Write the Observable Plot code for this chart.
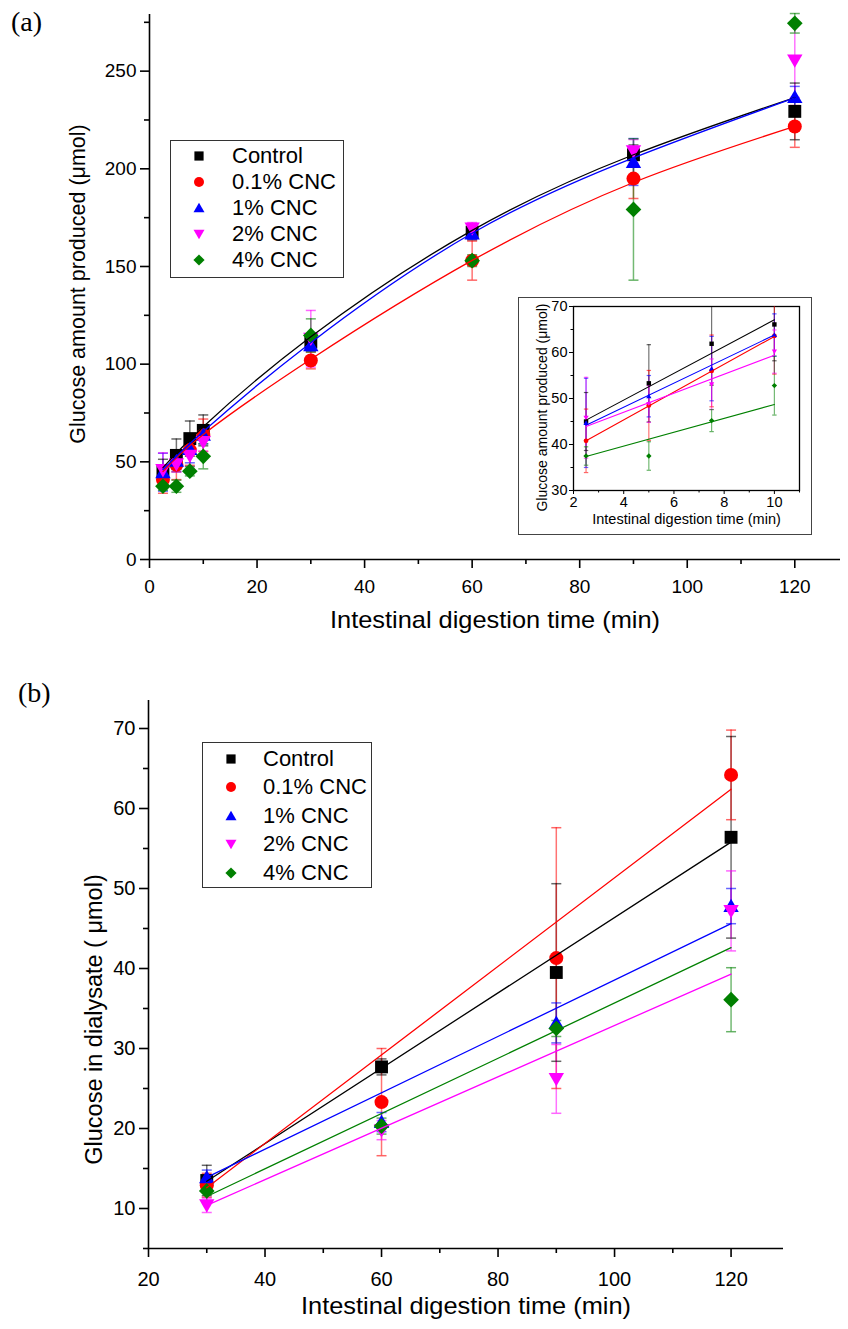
<!DOCTYPE html>
<html>
<head>
<meta charset="utf-8">
<script src="https://cdn.jsdelivr.net/npm/d3@7"></script>
<script src="https://cdn.jsdelivr.net/npm/@observablehq/plot@0.6"></script>
<style>
  body { margin: 0; background: #fff; }
  #root { position: relative; width: 848px; height: 1329px; font-family: "Liberation Sans", Arial, sans-serif; overflow: hidden; }
  .plabel { position: absolute; font-family: "Liberation Serif", "Times New Roman", serif; font-size: 28px; color: #000; line-height: 1; }
  .legend { position: absolute; border: 1.3px solid #333; background: #fff; box-sizing: border-box; }
  .legend .row { position: absolute; left: 0; right: 0; height: 26px; }
  .legend .row svg { position: absolute; top: 0; }
  .legend .row span { position: absolute; font-size: 22px; line-height: 26px; top: 0; color: #000; white-space: nowrap; }
  .inset { position: absolute; border: 1.5px solid #444; background: #fff; box-sizing: border-box; }
</style>
</head>
<body>
<div id="root"></div>
<script>
// ---------------- DATA ----------------
const seriesNames = ["Control", "0.1% CNC", "1% CNC", "2% CNC", "4% CNC"];
const seriesColors = ["#000000", "#ff0000", "#0000ff", "#ff00ff", "#008000"];

// Panel (a): glucose amount produced (µmol) vs intestinal digestion time (min)
const timeA = [2.5, 5, 7.5, 10, 30, 60, 90, 120];
const controlA = [45.0, 53.3, 61.9, 66.1, 111.3, 167.6, 207.2, 229.4];
const cnc01A   = [40.8, 48.5, 56.0, 63.6, 101.9, 153.0, 195.0, 221.7];
const cnc1A    = [44.7, 50.5, 56.5, 63.8, 109.6, 166.9, 203.5, 236.7];
const cnc2A    = [45.8, 48.8, 53.1, 60.2, 113.0, 169.5, 209.0, 255.5];
const cnc4A    = [37.5, 37.5, 45.2, 52.8, 114.7, 153.0, 179.2, 274.5];
const controlErrA = [6.3, 8.4, 9.0, 7.9, 3.0, 4.0, 5.0, 14.5];
const cnc01ErrA   = [6.9, 7.6, 7.8, 8.3, 4.3, 10.0, 10.2, 10.7];
const cnc1ErrA    = [9.7, 4.5, 7.0, 4.6, 3.0, 3.0, 12.0, 5.5];
const cnc2ErrA    = [8.8, 4.0, 5.5, 4.7, 14.5, 3.0, 6.0, 19.0];
const cnc4ErrA    = [2.0, 3.1, 2.4, 6.4, 8.5, 3.0, 36.2, 5.0];

// Panel (a): fitted curves
const fitSeriesA = ["Control", "0.1% CNC", "1% CNC"];
const fitTimeA = [2.5, 10, 30, 60, 90, 120];
const fitControlA = [47.0, 68.0, 114.0, 168.5, 207.2, 236.5];
const fitCnc01A   = [45.0, 64.0, 102.5, 153.1, 193.0, 221.7];
const fitCnc1A    = [46.0, 65.5, 111.0, 167.0, 205.6, 236.3];

// Inset: linear fits over the first 10 min
const insetFitTime = [2.5, 10];
const insetFitControl = [45.3, 67.1];
const insetFitCnc01   = [40.8, 63.5];
const insetFitCnc1    = [44.2, 63.8];
const insetFitCnc2    = [43.9, 59.4];
const insetFitCnc4    = [37.4, 48.7];

// Panel (b): glucose in dialysate (µmol)
const timeB = [30, 60, 90, 120];
const controlB = [13.5, 27.7, 39.5, 56.4];
const cnc01B   = [12.9, 23.3, 41.3, 64.2];
const cnc1B    = [13.9, 20.8, 33.2, 47.8];
const cnc2B    = [10.4, 19.8, 26.2, 47.2];
const cnc4B    = [12.2, 20.3, 32.5, 36.1];
const controlErrB = [1.9, 1.0, 11.1, 12.6];
const cnc01ErrB   = [1.5, 6.7, 16.3, 5.6];
const cnc1ErrB    = [0.9, 1.2, 2.5, 2.2];
const cnc2ErrB    = [0.9, 1.2, 4.3, 5.0];
const cnc4ErrB    = [1.3, 1.0, 1.0, 4.0];

// Panel (b): linear fits
const fitTimeB = [30, 120];
const fitControlB = [13.4, 55.8];
const fitCnc01B   = [12.6, 62.4];
const fitCnc1B    = [13.9, 45.6];
const fitCnc2B    = [10.4, 39.3];
const fitCnc4B    = [11.5, 42.6];

// Tick values
const xMajorA = [0, 20, 40, 60, 80, 100, 120];
const xMinorA = [10, 30, 50, 70, 90, 110];
const yMajorA = [0, 50, 100, 150, 200, 250];
const yMinorA = [25, 75, 125, 175, 225, 275];
const xMajorInset = [2, 4, 6, 8, 10];
const xMinorInset = [3, 5, 7, 9, 11];
const yMajorInset = [30, 40, 50, 60, 70];
const yMinorInset = [35, 45, 55, 65];
const xMajorB = [20, 40, 60, 80, 100, 120];
const xMinorB = [30, 50, 70, 90, 110];
const yMajorB = [10, 20, 30, 40, 50, 60, 70];
const yMinorB = [5, 15, 25, 35, 45, 55, 65];

// ---------------- SYMBOLS ----------------
const SQ = {draw(c, s) { const r = Math.sqrt(s / Math.PI) * 0.92; c.rect(-r, -r, 2 * r, 2 * r); }};
const CI = {draw(c, s) { const r = Math.sqrt(s / Math.PI); c.moveTo(r, 0); c.arc(0, 0, r, 0, 2 * Math.PI); }};
const TU = {draw(c, s) { const r = Math.sqrt(s / Math.PI); c.moveTo(0, -1.05 * r); c.lineTo(1.1 * r, 0.85 * r); c.lineTo(-1.1 * r, 0.85 * r); c.closePath(); }};
const TD = {draw(c, s) { const r = Math.sqrt(s / Math.PI); c.moveTo(0, 1.05 * r); c.lineTo(1.1 * r, -0.85 * r); c.lineTo(-1.1 * r, -0.85 * r); c.closePath(); }};
const DI = {draw(c, s) { const r = Math.sqrt(s / Math.PI) * 1.12; c.moveTo(0, -r); c.lineTo(r, 0); c.lineTo(0, r); c.lineTo(-r, 0); c.closePath(); }};
const CAP = {draw(c, s) { const r = Math.sqrt(s / Math.PI); c.moveTo(-r, 0); c.lineTo(r, 0); }};
const seriesSymbols = [SQ, CI, TU, TD, DI];

// ---------------- TABLES ----------------
const valuesA = [controlA, cnc01A, cnc1A, cnc2A, cnc4A];
const errorsA = [controlErrA, cnc01ErrA, cnc1ErrA, cnc2ErrA, cnc4ErrA];
const valuesB = [controlB, cnc01B, cnc1B, cnc2B, cnc4B];
const errorsB = [controlErrB, cnc01ErrB, cnc1ErrB, cnc2ErrB, cnc4ErrB];
const fitsA = [fitControlA, fitCnc01A, fitCnc1A];
const insetFits = [insetFitControl, insetFitCnc01, insetFitCnc1, insetFitCnc2, insetFitCnc4];
const fitsB = [fitControlB, fitCnc01B, fitCnc1B, fitCnc2B, fitCnc4B];

function rows(times, vals, errs) {
  return seriesNames.flatMap((s, i) => times.map((t, j) => ({series: s, time: t, value: vals[i][j], err: errs[i][j]})));
}
function capRows(rs) {
  return rs.flatMap(d => [{...d, y: d.value - d.err}, {...d, y: d.value + d.err}]);
}
function fitRows(names, times, fits) {
  return names.flatMap((s, i) => times.map((t, j) => ({series: s, time: t, value: fits[i][j]})));
}
const rowsA = rows(timeA, valuesA, errorsA);
const rowsInset = rowsA.filter(d => d.time <= 10);
const rowsB = rows(timeB, valuesB, errorsB);
const fitRowsA = fitRows(fitSeriesA, fitTimeA, fitsA);
const fitRowsInset = fitRows(seriesNames, insetFitTime, insetFits);
const fitRowsB = fitRows(seriesNames, fitTimeB, fitsB);

const colorScale = {domain: seriesNames, range: seriesColors};
const symbolScale = {domain: seriesNames, range: seriesSymbols};
const FONT = "Liberation Sans, Arial, sans-serif";

function dataMarks(rs, fr, opt) {
  const {r, capR, barW, lineW, curve, clip} = opt;
  return [
    Plot.ruleX(rs, {x: "time", y1: d => d.value - d.err, y2: d => d.value + d.err, stroke: "series", strokeOpacity: 0.55, strokeWidth: barW, clip}),
    Plot.dot(capRows(rs), {x: "time", y: "y", symbol: CAP, r: capR, stroke: "series", strokeOpacity: 0.6, strokeWidth: barW, clip}),
    Plot.dot(rs, {x: "time", y: "value", symbol: "series", fill: "series", r, clip}),
    Plot.line(fr, {x: "time", y: "value", z: "series", stroke: "series", strokeWidth: lineW, curve, clip})
  ];
}

function axes(xMaj, xMin, yMaj, yMin, xDom0, yDom0, o) {
  const {fs, tMaj, tMin, padX, padY, sw} = o;
  return [
    Plot.ruleY([yDom0], {stroke: "#000", strokeWidth: sw}),
    Plot.ruleX([xDom0], {stroke: "#000", strokeWidth: sw}),
    Plot.axisX({ticks: xMaj, tickSize: tMaj, tickPadding: padX, fontSize: fs, label: null, strokeWidth: sw, stroke: "#000", fill: "#000"}),
    Plot.axisX({ticks: xMin, tickSize: tMin, tickFormat: () => "", label: null, strokeWidth: sw, stroke: "#000"}),
    Plot.axisY({ticks: yMaj, tickSize: tMaj, tickPadding: padY, fontSize: fs, label: null, strokeWidth: sw, stroke: "#000", fill: "#000"}),
    Plot.axisY({ticks: yMin, tickSize: tMin, tickFormat: () => "", label: null, strokeWidth: sw, stroke: "#000"})
  ];
}

function stretch(svg, text, len) {
  d3.select(svg).selectAll("text")
    .filter(function () { return this.textContent === text; })
    .attr("textLength", len).attr("lengthAdjust", "spacingAndGlyphs");
}

const root = document.getElementById("root");
const titleX = "Intestinal digestion time (min)";

// ---------------- PANEL (a) ----------------
const plotA = Plot.plot({
  width: 848, height: 640,
  marginLeft: 149, marginRight: 8, marginTop: 14, marginBottom: 81,
  style: {fontFamily: FONT, background: "transparent", overflow: "visible"},
  x: {domain: [0, 128.5]},
  y: {domain: [0, 279]},
  color: colorScale,
  symbol: symbolScale,
  marks: [
    ...axes(xMajorA, xMinorA, yMajorA, yMinorA, 0, 0, {fs: 19, tMaj: 9, tMin: 5, padX: 11, padY: 4, sw: 1.6}),
    ...dataMarks(rowsA, fitRowsA, {r: 7, capR: 5, barW: 1.5, lineW: 1.3, curve: "natural", clip: false}),
    Plot.text([titleX], {frameAnchor: "bottom", dy: 68, fontSize: 24, fill: "#000"}),
    Plot.text(["Glucose amount produced (μmol)"], {frameAnchor: "left", dx: -71, dy: -3, rotate: -90, textAnchor: "middle", lineAnchor: "middle", fontSize: 21.5, fill: "#000"})
  ]
});
stretch(plotA, titleX, 330);
plotA.style.position = "absolute"; plotA.style.left = "0px"; plotA.style.top = "0px";
root.appendChild(plotA);

// ---------------- INSET ----------------
const insetBox = document.createElement("div");
insetBox.className = "inset";
Object.assign(insetBox.style, {left: "518px", top: "297px", width: "294px", height: "238px"});
root.appendChild(insetBox);
const plotInset = Plot.plot({
  width: 291, height: 235,
  marginLeft: 54, marginRight: 11, marginTop: 8, marginBottom: 43,
  style: {fontFamily: FONT, background: "transparent"},
  x: {domain: [2, 11]},
  y: {domain: [30, 70]},
  color: colorScale,
  symbol: symbolScale,
  marks: [
    Plot.frame({stroke: "#000", strokeWidth: 1.3}),
    Plot.axisX({ticks: xMajorInset, tickSize: 4, tickPadding: 2, fontSize: 14.5, label: null, stroke: "#000", fill: "#000"}),
    Plot.axisX({ticks: xMinorInset, tickSize: 2.5, tickFormat: () => "", label: null, stroke: "#000"}),
    Plot.axisY({ticks: yMajorInset, tickSize: 4, tickPadding: 2, fontSize: 14.5, label: null, stroke: "#000", fill: "#000"}),
    Plot.axisY({ticks: yMinorInset, tickSize: 2.5, tickFormat: () => "", label: null, stroke: "#000"}),
    ...dataMarks(rowsInset, fitRowsInset, {r: 2.4, capR: 2.2, barW: 1.2, lineW: 1.1, curve: "linear", clip: true}),
    Plot.text([titleX], {frameAnchor: "bottom", dy: 33, fontSize: 14.5, fill: "#000"}),
    Plot.text(["Glucose amount produced (μmol)"], {frameAnchor: "left", dx: -31, dy: 9, rotate: -90, textAnchor: "middle", lineAnchor: "middle", fontSize: 14, fill: "#000"})
  ]
});
plotInset.style.position = "absolute"; plotInset.style.left = "0px"; plotInset.style.top = "0px";
insetBox.appendChild(plotInset);

// ---------------- PANEL (b) ----------------
const plotB = Plot.plot({
  width: 848, height: 669,
  marginLeft: 148, marginRight: 65, marginTop: 40, marginBottom: 81,
  style: {fontFamily: FONT, background: "transparent", overflow: "visible"},
  x: {domain: [20, 129]},
  y: {domain: [5, 73.5]},
  color: colorScale,
  symbol: symbolScale,
  marks: [
    ...axes(xMajorB, xMinorB, yMajorB, yMinorB, 20, 5, {fs: 20, tMaj: 9, tMin: 5, padX: 14, padY: 4, sw: 1.6}),
    ...dataMarks(rowsB, fitRowsB, {r: 7, capR: 5, barW: 1.5, lineW: 1.3, curve: "linear", clip: false}),
    Plot.text([titleX], {frameAnchor: "bottom", dy: 65, fontSize: 24, fill: "#000"}),
    Plot.text(["Glucose in dialysate ( μmol)"], {frameAnchor: "left", dx: -54, dy: 45, rotate: -90, textAnchor: "middle", lineAnchor: "middle", fontSize: 23.5, fill: "#000"})
  ]
});
stretch(plotB, titleX, 330);
plotB.style.position = "absolute"; plotB.style.left = "0px"; plotB.style.top = "660px";
root.appendChild(plotB);

// ---------------- LEGENDS ----------------
function legend(left, top, width, height, rowTop, step, markerX, textX, size) {
  const box = document.createElement("div");
  box.className = "legend";
  Object.assign(box.style, {left: left + "px", top: top + "px", width: width + "px", height: height + "px"});
  seriesNames.forEach((name, i) => {
    const row = document.createElement("div");
    row.className = "row";
    row.style.top = (rowTop + i * step - 13) + "px";
    const svg = d3.create("svg").attr("width", 20).attr("height", 26)
      .style("left", (markerX - 10) + "px");
    svg.append("path")
      .attr("transform", "translate(10,13)")
      .attr("d", d3.symbol(seriesSymbols[i], size)())
      .attr("fill", seriesColors[i]);
    row.appendChild(svg.node());
    const sp = document.createElement("span");
    sp.textContent = name;
    sp.style.left = textX + "px";
    row.appendChild(sp);
    box.appendChild(row);
  });
  root.appendChild(box);
}
legend(170, 140, 174, 138, 15, 26, 28, 61, Math.PI * 25);
legend(202, 742, 170, 146, 16, 28.4, 28, 60, Math.PI * 25);

// ---------------- PANEL LABELS ----------------
function label(text, left, top) {
  const d = document.createElement("div");
  d.className = "plabel";
  d.textContent = text;
  d.style.left = left + "px"; d.style.top = top + "px";
  root.appendChild(d);
}
label("(a)", 11, 8);
label("(b)", 18, 679);
</script>
</body>
</html>
